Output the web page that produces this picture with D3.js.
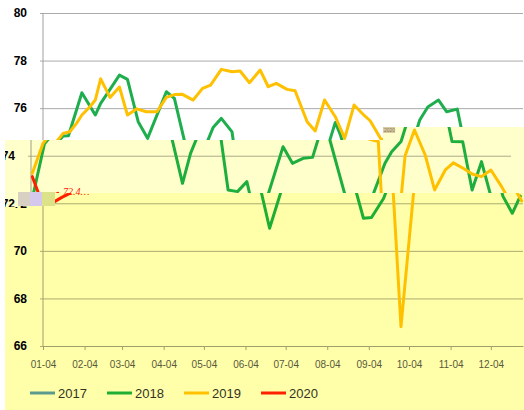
<!DOCTYPE html>
<html><head><meta charset="utf-8">
<script src="https://cdn.jsdelivr.net/npm/d3@7"></script>
<style>html,body{margin:0;padding:0;background:#fff;overflow:hidden}</style>
</head><body><svg id="c" width="524" height="410"></svg>
<script>
const seriesNames = ["2017","2018","2019","2020"];
const seriesColors = ["#5B9BD5","#1EAE4E","#FFC000","#FF2000"];

const dates2017 = [];
const values2017 = [];

const dates2018 = ["01-05","01-14","01-19","01-23","02-02","02-12","02-16","02-21","03-02","03-08","03-16","03-23","04-06","04-12","04-27","05-03","05-11","05-17","05-25","05-31","06-07","06-14","06-22","07-11","07-18","07-26","08-02","08-10","08-14","08-31","09-06","09-15","09-25","09-30","10-07","10-12","10-18","10-26","11-01","11-09","11-14","11-22","11-29","12-06","12-13","12-20","12-26"];
const values2018 = [72.2,74.5,74.83,74.84,76.65,75.71,76.2,76.62,77.39,77.21,75.43,74.73,76.69,76.41,72.84,74.1,75.2,75.57,75.0,72.56,72.49,72.91,70.95,74.38,73.68,73.89,73.93,75.4,74.85,71.37,71.4,72.2,73.68,74.17,74.6,75.5,76.05,76.34,75.85,75.96,74.6,74.59,72.56,73.75,72.3,71.58,72.3];

const dates2019 = ["01-05","01-13","01-19","01-24","01-29","02-02","02-08","02-12","02-16","02-23","03-02","03-08","03-15","03-22","03-30","04-06","04-12","04-18","04-26","05-03","05-09","05-17","05-25","05-31","06-07","06-15","06-21","06-27","07-05","07-11","07-20","07-26","08-02","08-10","08-17","08-24","09-01","09-05","09-13","09-20","09-28","10-10","10-17","10-25","11-01","11-09","11-15","11-23","11-29","12-06","12-13","12-21","12-27"];
const values2019 = [73.26,74.52,74.94,75.01,75.36,75.71,76.06,76.34,77.23,76.45,76.89,75.71,75.97,75.85,75.85,76.45,76.57,76.58,76.34,76.83,76.97,77.63,77.53,77.56,77.07,77.6,76.9,77.04,76.79,76.73,75.43,75.04,76.34,75.64,74.73,76.13,75.67,75.47,74.7,74.6,66.81,74.0,75.08,74.03,72.56,73.4,73.7,73.45,73.23,73.12,73.4,72.7,72.1];

const dates2020 = ["01-05","01-12","01-18","01-24"];
const values2020 = [73.12,72.05,72.25,72.42];

const yTicks = [66,68,70,72,74,76,78,80];
const xTickLabels = ["01-04","02-04","03-04","04-04","05-04","06-04","07-04","08-04","09-04","10-04","11-04","12-04"];

const allDates = [dates2017, dates2018, dates2019, dates2020];
const allValues = [values2017, values2018, values2019, values2020];

const W = 524, H = 410;
const parse = d3.timeParse("%m-%d");
const x = d3.scaleTime().domain([parse("01-04"), parse("12-28")]).range([43, 523]);
const y = d3.scaleLinear().domain([66, 80]).range([346, 13]);

function mult(c, t) {
  const a = d3.rgb(c), b = d3.rgb(t);
  return d3.rgb(a.r * b.r / 255, a.g * b.g / 255, a.b * b.b / 255).formatHex();
}

function drawChart(g, tint) {
  const T = c => mult(c, tint);
  g.append("rect").attr("x", -40).attr("y", 0).attr("width", W + 80).attr("height", H).attr("fill", T("#ffffff"));

  // gridlines
  const grid = g.append("g").attr("transform", "translate(40,0)")
    .call(d3.axisRight(y).tickValues(yTicks).tickSize(483).tickFormat(""));
  grid.select(".domain").remove();
  grid.selectAll("line").attr("stroke", T("#ABABAB")).attr("stroke-width", 1);

  // y labels
  const yl = g.append("g").attr("transform", "translate(30,0)")
    .call(d3.axisLeft(y).tickValues(yTicks).tickSize(0).tickPadding(3).tickFormat(d3.format("d")));
  yl.select(".domain").remove();
  yl.selectAll("text").attr("fill", T("#000000")).attr("font-family", "Liberation Sans, Arial, sans-serif")
    .attr("font-size", 12).attr("font-weight", "bold");

  // y axis line
  g.append("line").attr("x1", 43).attr("x2", 43).attr("y1", y(80)).attr("y2", y(66))
    .attr("stroke", T("#A0A0A0")).attr("stroke-width", 1);

  // x axis
  const xa = g.append("g").attr("transform", `translate(0,${y(66)})`)
    .call(d3.axisBottom(x).tickValues(xTickLabels.map(parse)).tickSize(4).tickSizeOuter(0)
      .tickPadding(11).tickFormat(d3.timeFormat("%m-%d")));
  xa.select(".domain").attr("stroke", T("#A0A0A0"));
  xa.selectAll("line").attr("stroke", T("#A0A0A0"));
  xa.selectAll("text").attr("fill", T("#595959")).attr("font-family", "Liberation Sans, Arial, sans-serif")
    .attr("font-size", 10);

  // lines
  const line = d3.line().x(d => x(parse(d[0]))).y(d => y(d[1]));
  seriesNames.forEach((name, i) => {
    const data = allDates[i].map((d, j) => [d, allValues[i][j]]);
    if (!data.length) return;
    g.append("path").datum(data).attr("d", line).attr("fill", "none")
      .attr("stroke", T(seriesColors[i])).attr("stroke-width", 3)
      .attr("stroke-linejoin", "round").attr("stroke-linecap", "round");
  });

  // legend
  const lg = g.append("g");
  seriesNames.forEach((name, i) => {
    const lx = 30 + i * 77;
    lg.append("line").attr("x1", lx).attr("x2", lx + 25).attr("y1", 393).attr("y2", 393)
      .attr("stroke", T(seriesColors[i])).attr("stroke-width", 3);
    lg.append("text").attr("x", lx + 28).attr("y", 397.5).text(name)
      .attr("fill", T("#333333")).attr("font-family", "Liberation Sans, Arial, sans-serif").attr("font-size", 13);
  });
}

const svg = d3.select("#c");
const defs = svg.append("defs");
defs.append("clipPath").attr("id", "cpLow")
  .append("rect").attr("x", 5).attr("y", 193).attr("width", 519).attr("height", 217);
const cpPale = defs.append("clipPath").attr("id", "cpPale");
cpPale.append("rect").attr("x", 5).attr("y", 140).attr("width", 519).attr("height", 53);
cpPale.append("rect").attr("x", 383).attr("y", 127).attr("width", 141).attr("height", 13);
cpPale.append("rect").attr("x", 5).attr("y", 193).attr("width", 13).attr("height", 14);

drawChart(svg.append("g"), "#ffffff");
drawChart(svg.append("g").attr("clip-path", "url(#cpLow)").append("g"), "#FFFFAA");
drawChart(svg.append("g").attr("clip-path", "url(#cpPale)").append("g").attr("transform", "translate(-12,0)"), "#FFFFCC");

// capture artefacts
const art = svg.append("g");
art.append("rect").attr("x", 18).attr("y", 192).attr("width", 12).attr("height", 14).attr("fill", "#D8D0C2");
art.append("rect").attr("x", 30).attr("y", 192).attr("width", 12).attr("height", 14).attr("fill", "#D4C8EC");
art.append("rect").attr("x", 42).attr("y", 192).attr("width", 13).attr("height", 14).attr("fill", "#DCE288");
art.append("rect").attr("x", 383).attr("y", 127).attr("width", 12).attr("height", 6).attr("fill", "#D9CBA6");
art.append("text").attr("x", 384).attr("y", 132).attr("font-size", 5).attr("fill", "#8A7A50")
  .attr("font-family", "Liberation Sans, Arial, sans-serif").text("2020");
art.append("text").attr("x", 63).attr("y", 195)
  .attr("fill", seriesColors[3]).attr("font-family", "Liberation Serif, serif").attr("font-style", "italic")
  .attr("font-size", 10).text(d3.format(".1f")(values2020[values2020.length - 1]) + "…");
</script></body></html>
